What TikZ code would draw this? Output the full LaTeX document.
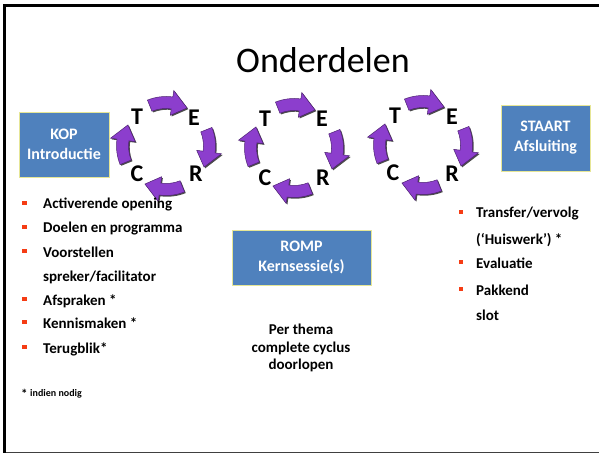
\documentclass[tikz,border=0pt]{standalone}
\usepackage{fontspec}
\setmainfont{Carlito}
\definecolor{boxblue}{RGB}{79,129,189}
\definecolor{boxedge}{RGB}{230,230,150}
\definecolor{bulletred}{RGB}{245,60,20}
\definecolor{arrowpurple}{RGB}{140,62,205}
\newcommand\cycarrowpath[1]{(#1-22:37.5) arc[start angle=#1-22, end angle=#1+8, radius=37.5]
      -- (#1+8:31) -- (#1+29:43.5) -- (#1+8:56) -- (#1+8:49.5)
      arc[start angle=#1+8, end angle=#1-22, radius=49.5] -- cycle}
\newcommand\cycarrow[2]{%
  \begin{scope}[shift={(#1)}]
    \fill[black!70,shift={(1.2,1.2)}] \cycarrowpath{#2};
    \filldraw[fill=arrowpurple,draw=arrowpurple!55!black,line width=0.5pt] \cycarrowpath{#2};
  \end{scope}}
\begin{document}
\begin{tikzpicture}[x=1pt,y=-1pt,
  bluebox/.style={draw=boxedge,line width=0.8pt,fill=boxblue,text=white,align=center,
    font=\bfseries\fontsize{16}{20}\selectfont,inner sep=0pt},
  letter/.style={font=\bfseries\fontsize{24}{24}\selectfont,inner sep=0pt},
  item/.style={anchor=base west,font=\bfseries\fontsize{15}{18}\selectfont,inner sep=0pt},
  bul/.style={fill=bulletred,minimum size=4.5pt,inner sep=0pt},
  plain/.style={font=\bfseries\fontsize{15}{17.5}\selectfont,align=center,inner sep=0pt}]
\useasboundingbox (0,0) rectangle (599,454);
\fill[white] (0,0) rectangle (599,454);
\draw[black!75,line width=1.5pt] (3,452.5) -- (599,452.5);
\draw[line width=2.5pt] (3,5.5) -- (599,5.5);
\draw[line width=3pt] (4.5,4.5) -- (4.5,453);

\node[font=\fontsize{36}{36}\selectfont,inner sep=0pt] (title) at (323,60) {Onderdelen};

% boxes
\node[bluebox,minimum width=90pt,minimum height=65pt] (kop) at (64,144.5) {KOP\\Introductie};
\node[bluebox,minimum width=89pt,minimum height=66pt] (staart) at (545.5,138) {STAART\\Afsluiting};
\node[bluebox,minimum width=139pt,minimum height=55pt] (romp) at (301.5,257.5) {ROMP\\Kernsessie(s)};

% cycles
\coordinate (c1) at (166,146);
\coordinate (c2) at (294,148);
\coordinate (c3) at (423,145);
\foreach \c in {c1,c2,c3}{
  \cycarrow{\c}{-90}
  \cycarrow{\c}{0}
  \cycarrow{\c}{90}
  \cycarrow{\c}{180}
}
\node[letter] (t1) at (137,117) {T};
\node[letter] (e1) at (194,118) {E};
\node[letter] (c1l) at (137,174) {C};
\node[letter] (r1) at (196,174) {R};
\node[letter] (t2) at (265,119) {T};
\node[letter] (e2) at (322,119) {E};
\node[letter] (c2l) at (265,178) {C};
\node[letter] (r2) at (323,178) {R};
\node[letter] (t3) at (395,116) {T};
\node[letter] (e3) at (452,117) {E};
\node[letter] (c3l) at (393,173) {C};
\node[letter] (r3) at (452,174) {R};

% left list
\node[item] (l1) at (43,209) {Activerende opening};
\node[item] (l2) at (43,233) {Doelen en programma};
\node[item] (l3) at (43,257) {Voorstellen};
\node[item] (l3b) at (43,281) {spreker/facilitator};
\node[item] (l4) at (43,305) {Afspraken *};
\node[item] (l5) at (43,328) {Kennismaken *};
\node[item] (l6) at (43,353) {Terugblik*};
\foreach \y [count=\i] in {203,227,251,299,322,347}
  \node[bul] (lb\i) at (24.5,\y) {};
\node[anchor=base west,inner sep=0pt,font=\bfseries\fontsize{13}{13}\selectfont] (star) at (21,398) {*};
\node[anchor=base west,inner sep=0pt,font=\bfseries\fontsize{10}{10}\selectfont] (nodig) at (30,396) {indien nodig};

% right list
\node[item] (r1t) at (476,218) {Transfer/vervolg};
\node[item] (r1b) at (476,244) {(‘Huiswerk’) *};
\node[item] (r2t) at (476,268) {Evaluatie};
\node[item] (r3t) at (476,295) {Pakkend};
\node[item] (r3b) at (476,320) {slot};
\foreach \y [count=\i] in {212,262,289}
  \node[bul] (rb\i) at (461,\y) {};

% romp text
\node[plain] (thema) at (301,348) {Per thema\\complete cyclus\\doorlopen};
\end{tikzpicture}
\end{document}
